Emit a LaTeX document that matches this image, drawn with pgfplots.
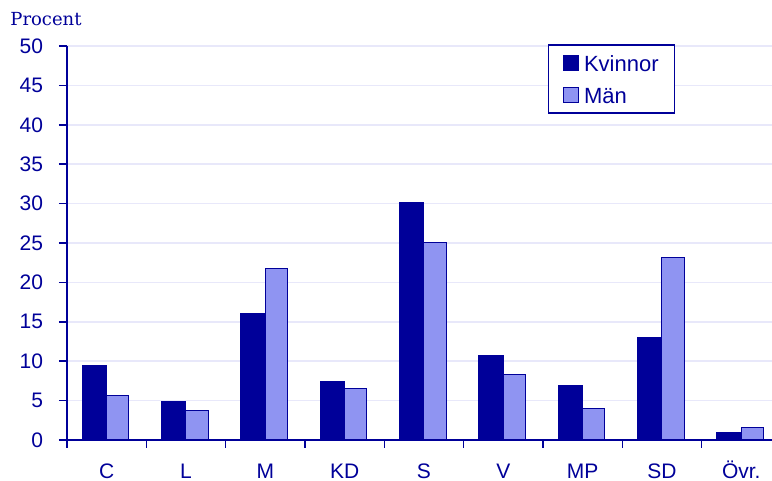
\documentclass[border=0pt]{standalone}
\usepackage{fontspec}
\setmainfont{Liberation Sans}
\newfontfamily\seriffont{DejaVu Serif}
\usepackage{pgfplots}
\pgfplotsset{compat=1.18}
\definecolor{dblue}{HTML}{000099}
\definecolor{lblue}{HTML}{8F94F2}
\definecolor{gridc}{HTML}{E8E8FA}
\begin{document}
\begin{tikzpicture}
\begin{axis}[
 at={(33.5pt,20.5pt)}, anchor=south west,
 scale only axis, width=352.5pt, height=197pt,
 xmin=-0.5, xmax=8.387, ymin=0, ymax=50,
 axis x line*=bottom, axis y line*=left,
 axis line style={dblue, line width=0.75pt},
 ytick={0,5,...,50},
 xtick={0,...,8},
 xticklabels={C,L,M,KD,S,V,MP,SD,Övr.},
 minor xtick={-0.5,0.5,...,7.5},
 tick align=outside,
 major tick length=4pt, minor tick length=4pt,
 tick style={dblue, line width=0.75pt},
 major x tick style={draw=none},
 ymajorgrids, grid style={gridc, line width=0.75pt},
 ticklabel style={font=\fontsize{10.5}{12}\selectfont, text=dblue},
 yticklabel style={xshift=-4.5pt},
 xticklabel style={anchor=base, inner sep=0pt, text depth=0pt, yshift=-15.5pt},
 /pgf/number format/assume math mode=true,
 legend cell align=left,
 legend image code/.code={\path[draw=none,fill=none] (0pt,0pt) -- (9.75pt,0pt); \draw[#1] (1.25pt,-3.75pt) rectangle (8.75pt,3.75pt);},
 legend style={at={(0.682,1.005)}, anchor=north west, draw=dblue, line width=0.75pt,
   font=\fontsize{11}{13}\selectfont, text=dblue, inner xsep=6pt, inner ysep=2.5pt, row sep=3.5pt,
   nodes={inner sep=2pt, text depth=0pt, text height=8.8pt}},
]
\addplot[ybar, bar width=0.307, bar shift=-0.1535, fill=dblue, draw=dblue, line width=0.5pt]
 coordinates {(0,9.4) (1,4.9) (2,16.0) (3,7.4) (4,30.2) (5,10.7) (6,6.9) (7,13.0) (8,0.9)};
\addplot[ybar, bar width=0.28, bar shift=0.14, fill=lblue, draw=dblue, line width=0.5pt]
 coordinates {(0,5.6) (1,3.7) (2,21.7) (3,6.5) (4,25.0) (5,8.3) (6,4.0) (7,23.1) (8,1.6)};
\legend{Kvinnor, Män}
\end{axis}
\node[anchor=base west, font=\seriffont\fontsize{9}{10}\selectfont, text=dblue, inner sep=0pt] at (5pt,227.5pt) {Procent};
\pgfresetboundingbox
\path[use as bounding box] (0,0) rectangle (386pt,240.5pt);
\end{tikzpicture}
\end{document}
